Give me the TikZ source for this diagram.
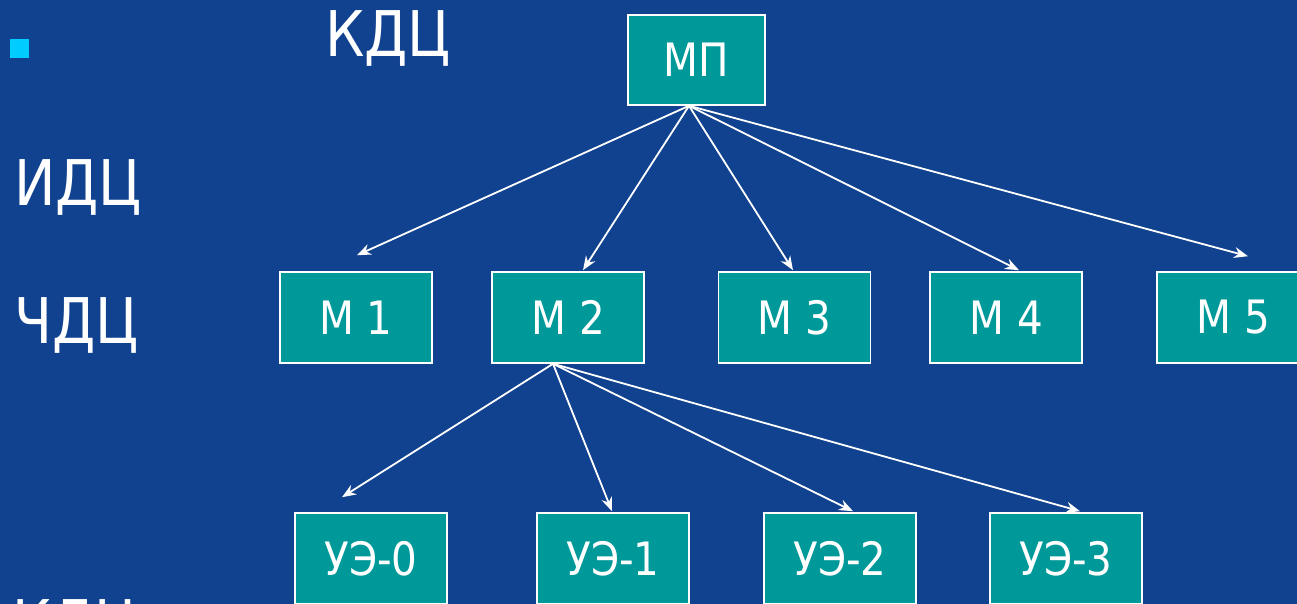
\documentclass[tikz,border=0pt]{standalone}
\usepackage{fontspec}
\setmainfont{DejaVu Sans}[FakeStretch=0.88]
\usetikzlibrary{arrows.meta}
\definecolor{bgblue}{RGB}{17,66,143}
\definecolor{teal1}{RGB}{0,153,153}
\definecolor{bullet}{RGB}{0,204,255}
\tikzset{
  box/.style={draw=white, line width=1.6pt, fill=teal1, text=white,
    minimum width=152pt, minimum height=91pt, inner sep=0pt,
    font=\fontsize{46}{52}\selectfont},
  lab/.style={text=white, inner sep=0pt, anchor=base west,
    font=\fontsize{63}{70}\selectfont},
  arr/.style={draw=white, line width=1.8pt, -{Stealth[length=14pt,width=11pt]}}
}
\begin{document}
\begin{tikzpicture}[x=1pt,y=-1pt]
\fill[bgblue] (0,0) rectangle (1297,604);
\path[use as bounding box] (0,0) rectangle (1297,604);
\fill[bullet] (10,39) rectangle (29,58);
\node[lab] (kdc) at (325,57) {КДЦ};
\node[lab] (idc) at (14,205) {ИДЦ};
\node[lab] (chdc) at (14,343) {ЧДЦ};
\node[lab] (kdc2) at (12,645) {КДЦ};
\node[box, minimum width=137pt, minimum height=90pt] (mp) at (696.5,60) {МП};
\node[box] (m1) at (356,317.5) {М 1};
\node[box] (m2) at (568,317.5) {М 2};
\node[box] (m3) at (794.5,317.5) {М 3};
\node[box] (m4) at (1006,317.5) {М 4};
\node[box] (m5) at (1233,317.5) {М 5};
\node[box] (u0) at (371,558.5) {УЭ-0};
\node[box] (u1) at (613,558.5) {УЭ-1};
\node[box] (u2) at (840,558.5) {УЭ-2};
\node[box] (u3) at (1066,558.5) {УЭ-3};
\draw[arr] ([xshift=-7.5pt]mp.south) -- ([xshift=1pt,yshift=16pt]m1.north);
\draw[arr] ([xshift=-7.5pt]mp.south) -- ([xshift=15pt,yshift=1pt]m2.north);
\draw[arr] ([xshift=-7.5pt]mp.south) -- ([xshift=-1.5pt,yshift=1pt]m3.north);
\draw[arr] ([xshift=-7.5pt]mp.south) -- ([xshift=13pt,yshift=1pt]m4.north);
\draw[arr] ([xshift=-7.5pt]mp.south) -- ([xshift=15pt,yshift=15pt]m5.north);
\draw[arr] ([xshift=-15pt]m2.south) -- ([xshift=-29pt,yshift=15pt]u0.north);
\draw[arr] ([xshift=-15pt]m2.south) -- ([xshift=-1pt,yshift=1pt]u1.north);
\draw[arr] ([xshift=-15pt]m2.south) -- ([xshift=13pt,yshift=1pt]u2.north);
\draw[arr] ([xshift=-15pt]m2.south) -- ([xshift=14pt,yshift=1pt]u3.north);
\end{tikzpicture}
\end{document}
